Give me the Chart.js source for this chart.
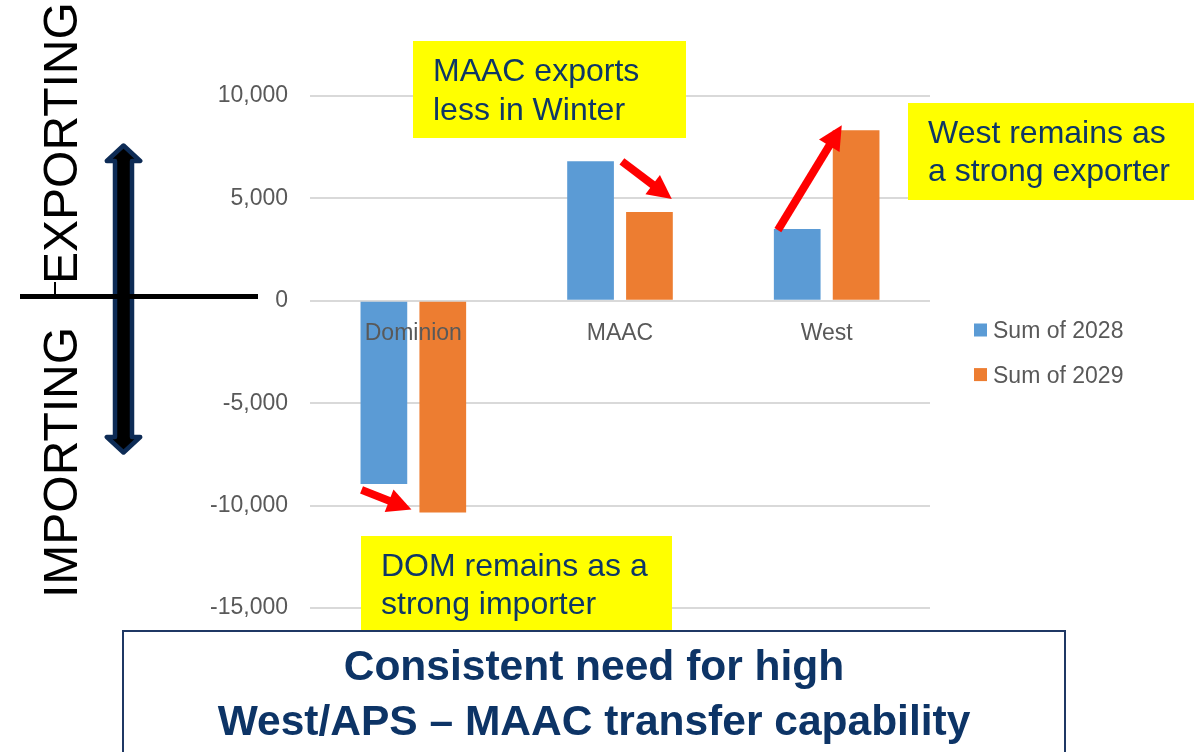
<!DOCTYPE html>
<html>
<head>
<meta charset="utf-8">
<script src="https://cdn.jsdelivr.net/npm/chart.js@4/dist/chart.umd.min.js"></script>
<style>
  html, body { margin:0; padding:0; background:#fff; }
  body { width:1194px; height:752px; position:relative; overflow:hidden; font-family:"Liberation Sans", Arial, sans-serif; }
  #c { position:absolute; left:0; top:0; }
  .note { position:absolute; background:#ffff00; }
  .note .t { position:absolute; left:20px; color:#0e3766; font-size:32px; line-height:38.4px; white-space:nowrap; }
  .rot { position:absolute; transform-origin:0 0; transform:rotate(-90deg); font-size:48px; line-height:48px; color:#000; white-space:nowrap; }
  #bottomBox { position:absolute; left:122px; top:630px; width:940px; height:140px; border:2px solid #1f3864; background:#fff; }
  #title { position:absolute; left:122px; width:944px; top:638px; text-align:center; font-weight:bold; font-size:42.5px; line-height:55px; color:#0d3466; white-space:nowrap; }
  svg { position:absolute; left:0; top:0; }
</style>
</head>
<body>
<canvas id="c" width="1194" height="752"></canvas>

<svg width="1194" height="752">
  <polygon points="123.5,145.5 140.2,161 132,161 132,437 140.2,437 123.5,452.5 106.8,437 115,437 115,161 106.8,161"
           fill="#000" stroke="#0d2b55" stroke-width="4.5" stroke-linejoin="round"/>
  <rect x="20" y="294" width="238" height="5" fill="#000"/>
  <rect x="54" y="282" width="2" height="14" fill="#000"/>
</svg>

<div class="rot" style="left:37px; top:284px;">EXPORTING</div>
<div class="rot" style="left:37px; top:598px;">IMPORTING</div>

<div class="note" style="left:413px; top:41px; width:273px; height:97px;">
  <div class="t" style="top:10.4px;">MAAC exports<br>less in Winter</div>
</div>
<div class="note" style="left:908px; top:103px; width:286px; height:97px;">
  <div class="t" style="top:10px;">West remains as<br>a strong exporter</div>
</div>
<div class="note" style="left:361px; top:536px; width:311px; height:96px;">
  <div class="t" style="top:9.7px;">DOM remains as a<br>strong importer</div>
</div>

<div id="bottomBox"></div>
<div id="title">Consistent need for high<br>West/APS – MAAC transfer capability</div>

<script>
// ---- data ----
const categories = ['Dominion', 'MAAC', 'West'];
const seriesLabels = ['Sum of 2028', 'Sum of 2029'];
const values2028 = [-8940, 6810, 3500];
const values2029 = [-10340, 4330, 8330];
const yTicks = [-15000, -10000, -5000, 0, 5000, 10000];
const seriesColors = ['#5B9BD5', '#ED7D31'];

const FONT = '"Liberation Sans", Arial, sans-serif';
const GREY = '#595959';

// legend drawn to the right of the plot, from the datasets
const sideLegend = {
  id: 'sideLegend',
  afterDraw(chart) {
    const ctx = chart.ctx;
    const a = chart.chartArea;
    ctx.save();
    ctx.font = '23px ' + FONT;
    ctx.textBaseline = 'alphabetic';
    ctx.textAlign = 'left';
    chart.data.datasets.forEach((ds, i) => {
      const cy = (a.top + a.bottom) / 2 - 22 + i * 44.6;
      const x = a.right + 44;
      ctx.fillStyle = ds.backgroundColor;
      ctx.fillRect(x, cy - 6.5, 13, 13);
      ctx.fillStyle = GREY;
      ctx.fillText(ds.label, x + 19, cy + 8.3);
    });
    ctx.restore();
  }
};

// red annotation arrows anchored on the bars
function drawArrow(ctx, x1, y1, x2, y2) {
  const ang = Math.atan2(y2 - y1, x2 - x1);
  const L = 24, W = 12;
  const bx = x2 - L * Math.cos(ang), by = y2 - L * Math.sin(ang);
  ctx.strokeStyle = '#ff0000';
  ctx.lineWidth = 8;
  ctx.lineCap = 'butt';
  ctx.beginPath();
  ctx.moveTo(x1, y1);
  ctx.lineTo(bx + Math.cos(ang), by + Math.sin(ang));
  ctx.stroke();
  ctx.fillStyle = '#ff0000';
  ctx.beginPath();
  ctx.moveTo(x2, y2);
  ctx.lineTo(bx + W * Math.sin(ang), by - W * Math.cos(ang));
  ctx.lineTo(bx - W * Math.sin(ang), by + W * Math.cos(ang));
  ctx.closePath();
  ctx.fill();
}
function box(el) {
  const h = el.width / 2;
  return { left: el.x - h, right: el.x + h, top: Math.min(el.y, el.base), bottom: Math.max(el.y, el.base) };
}
const arrows = {
  id: 'arrows',
  afterDatasetsDraw(chart) {
    const m0 = chart.getDatasetMeta(0).data, m1 = chart.getDatasetMeta(1).data;
    const ctx = chart.ctx;
    ctx.save();
    let a = box(m0[0]), b = box(m1[0]);
    drawArrow(ctx, a.left + 1, a.bottom + 6, b.left - 8, b.bottom - 3);
    a = box(m0[1]); b = box(m1[1]);
    drawArrow(ctx, a.right + 8, a.top, b.right - 1, b.top - 13);
    a = box(m0[2]); b = box(m1[2]);
    drawArrow(ctx, a.left + 4, a.top + 1, b.left + 9, b.top - 5);
    ctx.restore();
  }
};

new Chart(document.getElementById('c'), {
  type: 'bar',
  data: {
    labels: categories,
    datasets: [
      { label: seriesLabels[0], data: values2028, backgroundColor: seriesColors[0], barPercentage: 0.793, categoryPercentage: 0.57 },
      { label: seriesLabels[1], data: values2029, backgroundColor: seriesColors[1], barPercentage: 0.793, categoryPercentage: 0.57 }
    ]
  },
  options: {
    responsive: false,
    animation: false,
    devicePixelRatio: 1,
    layout: { padding: { left: 210, right: 264, top: 96, bottom: 144 } },
    plugins: { legend: { display: false }, tooltip: { enabled: false } },
    scales: {
      x: {
        position: { y: 0 },
        z: 1,
        grid: { display: false, drawTicks: false },
        border: { display: false },
        ticks: { z: 1, color: GREY, font: { family: FONT, size: 23 }, padding: 19, maxRotation: 0, autoSkip: false }
      },
      y: {
        min: yTicks[0],
        max: yTicks[yTicks.length - 1],
        afterBuildTicks(scale) { scale.ticks = yTicks.map(v => ({ value: v })); },
        afterFit(scale) { scale.width = 100; },
        ticks: {
          color: GREY,
          font: { family: FONT, size: 23 },
          padding: 22,
          callback: v => v.toLocaleString('en-US')
        },
        grid: { color: '#d9d9d9', lineWidth: 2, drawTicks: false },
        border: { display: false }
      }
    }
  },
  plugins: [arrows, sideLegend]
});
</script>
</body>
</html>
